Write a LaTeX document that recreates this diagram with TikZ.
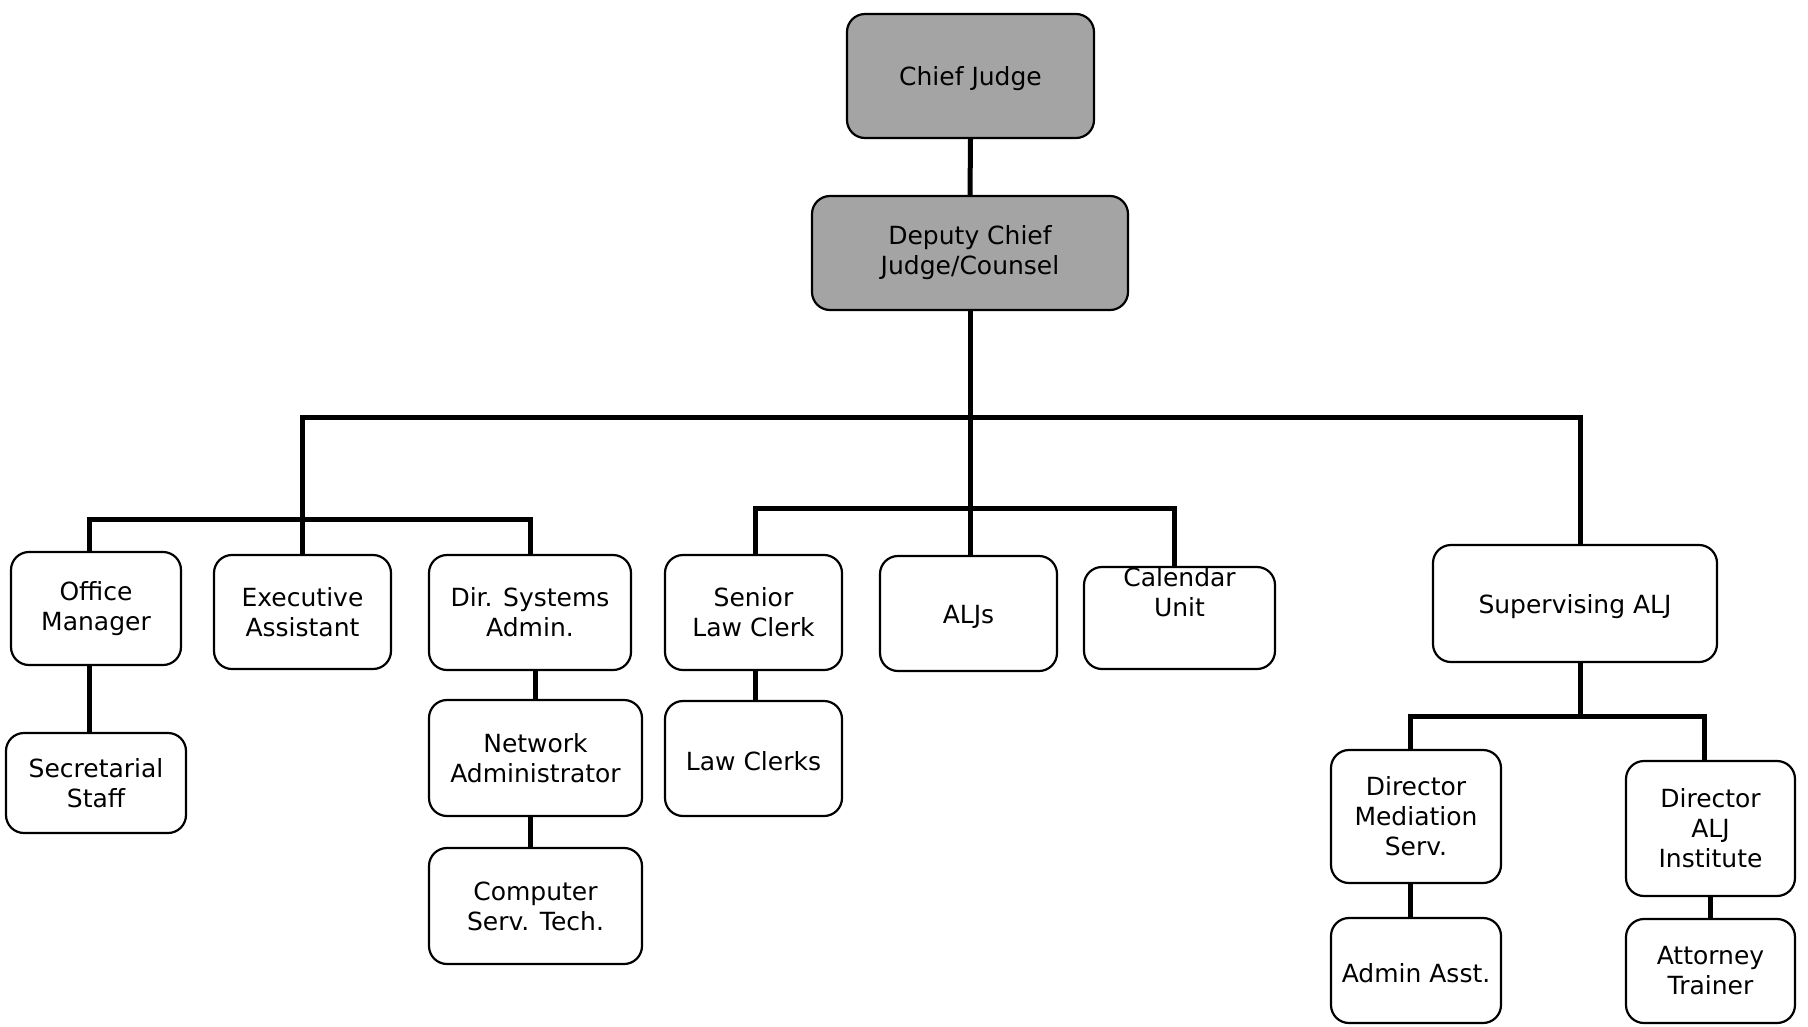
\documentclass[tikz,border=0pt]{standalone}
\usepackage{fontspec}
\setmainfont{DejaVu Sans}
\definecolor{darkfill}{HTML}{A4A4A4}
\begin{document}
\begin{tikzpicture}[x=1pt,y=-1pt,
  box/.style={draw=black, line width=2.2pt, rounded corners=18pt, fill=white, align=center,
    font=\fontsize{25}{30}\selectfont, inner sep=0pt},
  dark/.style={box, fill=darkfill},
  oneline/.style={execute at begin node={\rule{0pt}{25pt}}},
  conn/.style={line width=5pt, line join=miter}]
\useasboundingbox (0,0) rectangle (1808,1026);
\clip (0,0) rectangle (1808,1026);
% top
\node[dark, oneline, minimum width=247pt, minimum height=124pt] (chief) at (970.5,76) {Chief Judge};
\node[dark, minimum width=316pt, minimum height=114pt] (dep) at (970,253) {Deputy Chief\\Judge/Counsel};
% left group
\node[box, minimum width=170pt, minimum height=113pt] (office) at (96,608.5) {Office\\Manager};
\node[box, minimum width=177pt, minimum height=114pt] (exec) at (302.5,612) {Executive\\Assistant};
\node[box, minimum width=202pt, minimum height=115pt] (dirsys) at (530,612.5) {Dir. Systems\\Admin.};
\node[box, minimum width=180pt, minimum height=100pt] (sec) at (96,783) {Secretarial\\Staff};
\node[box, minimum width=213pt, minimum height=116pt] (net) at (535.5,758) {Network\\Administrator};
\node[box, minimum width=213pt, minimum height=116pt] (comp) at (535.5,906) {Computer\\Serv. Tech.};
% center group
\node[box, minimum width=177pt, minimum height=115pt] (slc) at (753.5,612.5) {Senior\\Law Clerk};
\node[box, oneline, minimum width=177pt, minimum height=115pt] (aljs) at (968.5,613.5) {ALJs};
\node[box, minimum width=191pt, minimum height=102pt] (cal) at (1179.5,618) {};
\node[font=\fontsize{25}{30}\selectfont, align=center, inner sep=0pt] (caltext) at ([yshift=26pt]cal.center) {Calendar\\Unit};
\node[box, oneline, minimum width=177pt, minimum height=115pt] (lc) at (753.5,758.5) {Law Clerks};
% right group
\node[box, oneline, minimum width=284pt, minimum height=117pt] (sup) at (1575,603.5) {Supervising ALJ};
\node[box, minimum width=170pt, minimum height=133pt] (dms) at (1416,816.5) {Director\\Mediation\\Serv.};
\node[box, oneline, minimum width=170pt, minimum height=105pt] (aa) at (1416,970.5) {Admin Asst.};
\node[box, minimum width=169pt, minimum height=135pt] (dai) at (1710.5,828.5) {Director\\ALJ\\Institute};
\node[box, minimum width=169pt, minimum height=104pt] (att) at (1710.5,971) {Attorney\\Trainer};
% bar coordinates
\coordinate (mainbar) at (970,417);
\coordinate (leftbar) at (304,519);
\coordinate (centerbar) at (970,508);
\coordinate (rightbar) at (1580,716);
% connectors
\draw[conn] (chief.south) -- (dep.north);
\draw[conn] (dep.south) -- (dep.south |- aljs.north);
\draw[conn] (exec.north) |- (mainbar) -| ([xshift=5pt]sup.north);
\draw[conn] ([xshift=-7pt]office.north) |- (leftbar) -| (dirsys.north);
\draw[conn] ([xshift=2pt]slc.north) |- (centerbar) -| ([xshift=-5pt]cal.north);
\draw[conn] ([xshift=-7pt]office.south) -- ([xshift=-7pt]sec.north);
\draw[conn] (net.north) -- (net.north |- dirsys.south);
\draw[conn] ([xshift=-5pt]comp.north) -- ([xshift=-5pt]comp.north |- net.south);
\draw[conn] ([xshift=2pt]slc.south) -- ([xshift=2pt]lc.north);
\draw[conn] ([xshift=5pt]sup.south) -- (rightbar);
\draw[conn] ([xshift=-6pt]dms.north) |- (rightbar) -| ([xshift=-6.5pt]dai.north);
\draw[conn] ([xshift=-6pt]dms.south) -- ([xshift=-6pt]aa.north);
\draw[conn] (dai.south) -- (att.north);
\end{tikzpicture}
\end{document}
